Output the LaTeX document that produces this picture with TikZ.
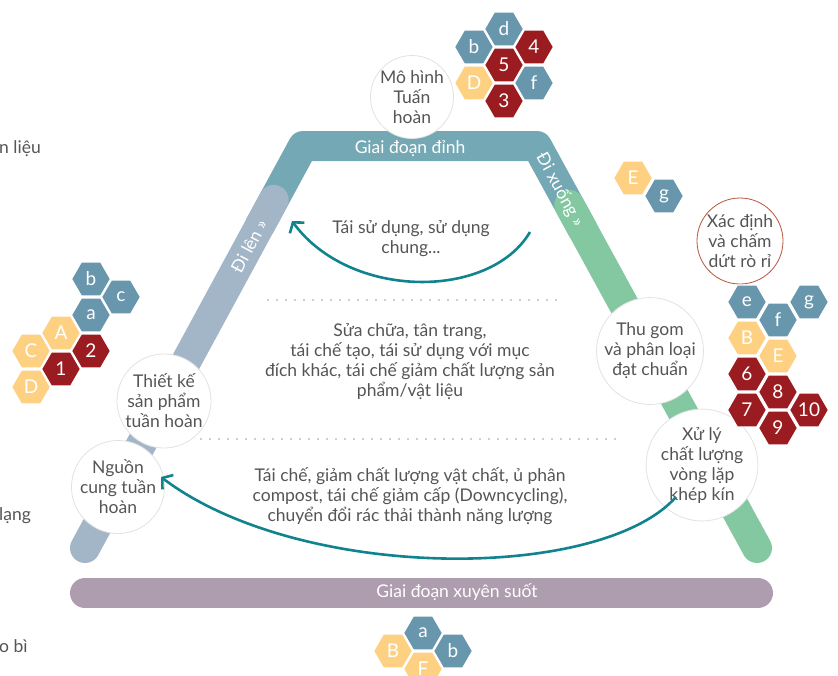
\documentclass[tikz,border=0pt]{standalone}
\usepackage{fontspec}
\setmainfont{Lato}
\usetikzlibrary{shapes.geometric,arrows.meta}

\definecolor{bandteal}{HTML}{74A8B5}
\definecolor{bandgrey}{HTML}{A3B6C8}
\definecolor{bandgreen}{HTML}{84C8A2}
\definecolor{bandpurple}{HTML}{AE9DAF}
\definecolor{hexblue}{HTML}{6796AD}
\definecolor{hexyellow}{HTML}{FDD181}
\definecolor{hexred}{HTML}{9A1C20}
\definecolor{arrowteal}{HTML}{11838F}
\definecolor{txt}{HTML}{555555}
\definecolor{rimgrey}{HTML}{E2E2E2}
\definecolor{rimred}{HTML}{B8553F}
\definecolor{dotgrey}{HTML}{9A9A9A}

\begin{document}
\begin{tikzpicture}[x=1pt,y=-1pt,
  font=\fontsize{17.5}{20}\selectfont,
  hexcell/.style={regular polygon, regular polygon sides=6, minimum size=39pt,
    inner sep=0pt, draw=white, line width=1.2pt, text=white,
    font=\fontsize{19}{19}\selectfont},
  hexb/.style={hexcell, fill=hexblue},
  hexy/.style={hexcell, fill=hexyellow},
  hexr/.style={hexcell, fill=hexred},
  stage/.style={circle, fill=white, draw=rimgrey, line width=0.8pt, text=txt,
    align=center, inner sep=0pt, minimum size=#1},
  band/.style={line width=30pt, line cap=round, line join=round},
  bandtext/.style={text=white, inner sep=0pt},
  plain/.style={text=txt, align=center, inner sep=0pt},
  dotline/.style={dotgrey, line width=1.6pt, line cap=round, dash pattern=on 0pt off 9pt},
  flowarrow/.style={arrowteal, line width=2.6pt,
    -{Straight Barb[length=7pt,width=18pt]}},
]
\useasboundingbox (0,0) rectangle (838,675);
\clip (0,0) rectangle (838,675);

% ---- the three-sided band and the base band
\draw[band, bandteal, line cap=butt] (259.4,226.4) -- (303,146) -- (537,146) -- (583.2,230.4);
\draw[band, bandgrey] (273.8,199.9) -- (85,548);
\draw[band, bandgreen] (569.3,205) -- (757,548);
\draw[band, bandpurple] (85,593) -- (758,593);

\node[bandtext] (peak) at (410,149) {Giai đoạn đỉnh};
\node[bandtext, rotate=62] (up) at (249,246) {Đi lên »};
\node[bandtext, rotate=-61.5] (down) at (560,190) {Đi xuống »};
\node[bandtext] (through) at (457,592) {Giai đoạn xuyên suốt};

% ---- dotted separators
\draw[dotline] (268,300) -- (558,300);
\draw[dotline] (201,439) -- (622,439);

% ---- texts inside the loop
\node[plain] (reuse) at (411,239) {Tái sử dụng, sử dụng\\chung...};
\node[plain] (repair) at (410,362) {Sửa chữa, tân trang,\\tái chế tạo, tái sử dụng với mục\\đích khác, tái chế giảm chất lượng sản\\phẩm/vật liệu};
\node[plain] (recycle) at (410,496) {Tái chế, giảm chất lượng vật chất, ủ phân\\compost, tái chế giảm cấp (Downcycling),\\chuyển đổi rác thải thành năng lượng};

% ---- stage circles
\node[stage=78pt] (model) at (412,97) {Mô hình\\Tuấn\\hoàn};
\node[stage=92pt] (design) at (164,401) {Thiết kế\\sản phẩm\\tuần hoàn};
\node[stage=84pt] (supply) at (118,487) {Nguồn\\cung tuần\\hoàn};
\node[stage=104pt] (collect) at (650,351) {Thu gom\\và phân loại\\đạt chuẩn};
\node[stage=102pt] (closedloop) at (702,465) {Xử lý\\chất lượng\\vòng lặp\\khép kín};
\node[stage=86pt, draw=rimred] (leak) at (740,241) {Xác định\\và chấm\\dứt rò rỉ};

% ---- flow arrows
\coordinate (reuseFrom) at (530,232);
\coordinate (reuseTo) at (292,221);
\draw[flowarrow] (reuseFrom) .. controls (490,300) and (350,300) .. (reuseTo);
\coordinate (recycleFrom) at (676,497);
\coordinate (recycleTo) at (161,477);
\draw[flowarrow] (recycleFrom) .. controls (600,582) and (300,582) .. (recycleTo);

% ---- hexagon clusters
% top
\node[hexb] (t-b) at (474,47) {b};
\node[hexy] (t-D) at (474,83) {D};
\node[hexb] (t-d) at (504,29) {d};
\node[hexr] (t-5) at (504,65) {5};
\node[hexr] (t-3) at (504,101) {3};
\node[hexr] (t-4) at (534,47) {4};
\node[hexb] (t-f) at (534,83) {f};
% left
\node[hexb] (l-b) at (91,279) {b};
\node[hexb] (l-c) at (121,297) {c};
\node[hexb] (l-a) at (91,315) {a};
\node[hexy] (l-A) at (61,333) {A};
\node[hexr] (l-2) at (91,351) {2};
\node[hexy] (l-C) at (31,351) {C};
\node[hexr] (l-1) at (61,369) {1};
\node[hexy] (l-D) at (31,387) {D};
% right, small pair
\node[hexy] (s-E) at (633,178) {E};
\node[hexb] (s-g) at (664,196) {g};
% right
\node[hexb] (r-e) at (747,302) {e};
\node[hexb] (r-g) at (809,302) {g};
\node[hexb] (r-f) at (778,320) {f};
\node[hexy] (r-B) at (747,338) {B};
\node[hexy] (r-E) at (778,356) {E};
\node[hexr] (r-6) at (747,374) {6};
\node[hexr] (r-8) at (778,392) {8};
\node[hexr] (r-7) at (747,410) {7};
\node[hexr] (r-10) at (809,410) {10};
\node[hexr] (r-9) at (778,428) {9};
% bottom
\node[hexb] (b-a) at (423,633) {a};
\node[hexy] (b-B) at (393,651) {B};
\node[hexb] (b-b) at (453,651) {b};
\node[hexy] (b-F) at (423,669) {F};

% ---- side labels at the left edge
\node[plain, anchor=west] (side1) at (-1,149) {n liệu};
\node[plain, anchor=west] (side2) at (-1,516) {lạng};
\node[plain, anchor=west] (side3) at (-1,646) {o bì};
\end{tikzpicture}
\end{document}
